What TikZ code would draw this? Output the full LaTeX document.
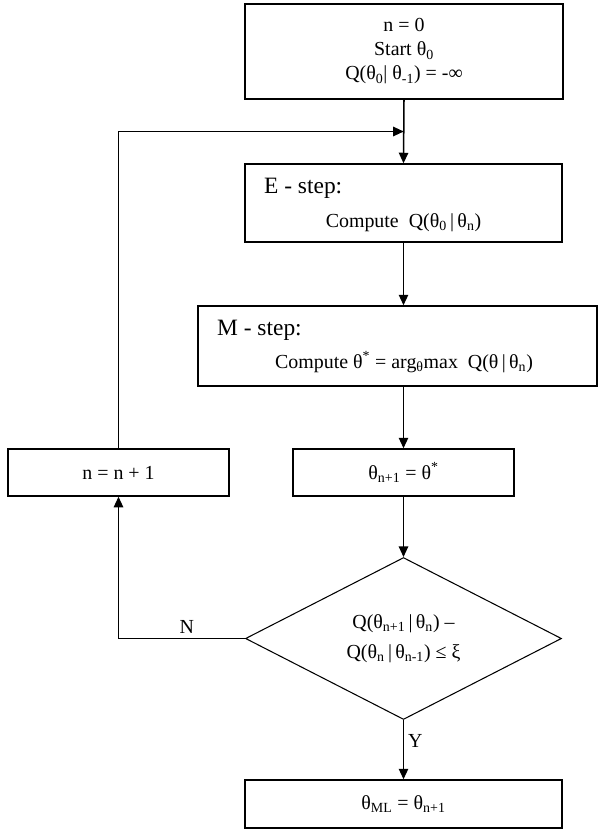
\documentclass[tikz,border=0pt]{standalone}
\usepackage{fontspec}
\setmainfont{Liberation Serif}
\usepackage{tikz}
\usetikzlibrary{positioning, arrows.meta, shapes.geometric, calc}

\begin{document}
\begin{tikzpicture}[
  x=0.03cm, y=-0.03cm,
  font=\fontsize{17}{20.5}\selectfont,
  box/.style={draw, line width=1.2pt, inner sep=0pt, align=center},
  decision/.style={draw, diamond, line width=0.9pt, inner sep=0pt,
    minimum width=9.48cm, minimum height=4.71cm, align=center},
  head/.style={font=\fontsize{20}{24}\selectfont, anchor=base west},
  body/.style={anchor=base},
  arr/.style={line width=1.3pt, -{Triangle[length=9pt, width=8pt]}},
]
  \useasboundingbox (0,0) rectangle (601,830);

  % Boxes of the loop
  \node[box, minimum width=9.54cm, minimum height=2.85cm] (start) at (404,51.5)
    {n = 0\\Start θ\textsubscript{0}\\Q(θ\textsubscript{0}| θ\textsubscript{-1}) = -∞};

  \node[box, minimum width=9.51cm, minimum height=2.34cm] (estep) at (403.5,203) {};
  \node[head] (ehead) at (260,193) {E - step:};
  \node[body] (ebody) at (403.5,227) {Compute\ \ Q(θ\textsubscript{0}\,|\,θ\textsubscript{n})};

  \node[box, minimum width=11.97cm, minimum height=2.4cm] (mstep) at (397.5,346) {};
  \node[head] (mhead) at (213,335) {M - step:};
  \node[body] (mbody) at (404,368)
    {Compute θ\textsuperscript{*} = arg\textsubscript{θ}max\ \ Q(θ\,|\,θ\textsubscript{n})};

  \node[box, minimum width=6.63cm, minimum height=1.41cm] (ninc) at (118.5,472.5) {n = n + 1};
  \node[box, minimum width=6.63cm, minimum height=1.41cm] (upd) at (403.5,472.5)
    {θ\textsubscript{n+1} = θ\textsuperscript{*}};

  \node[decision] (test) at (403.5,638.5)
    {Q(θ\textsubscript{n+1}\,|\,θ\textsubscript{n}) –\\[5pt]Q(θ\textsubscript{n}\,|\,θ\textsubscript{n-1}) ≤ ξ};

  \node[box, minimum width=9.51cm, minimum height=1.44cm] (final) at (403.5,804)
    {θ\textsubscript{ML} = θ\textsubscript{n+1}};

  % Connectors
  \coordinate (join) at ($(start.south)!0.5!(estep.north)$);
  \draw[arr] (start.south) -- (estep.north);
  \draw[arr] (ninc.north) |- (join);
  \draw[arr] (estep.south) -- (estep.south |- mstep.north);
  \draw[arr] (mstep.south -| upd.north) -- (upd.north);
  \draw[arr] (upd.south) -- (test.north);
  \draw[arr] (test.west) -| node[pos=0.23, above] {N} (ninc.south);
  \draw[arr] (test.south) -- node[pos=0.35, right] {Y} (final.north);
\end{tikzpicture}
\end{document}
